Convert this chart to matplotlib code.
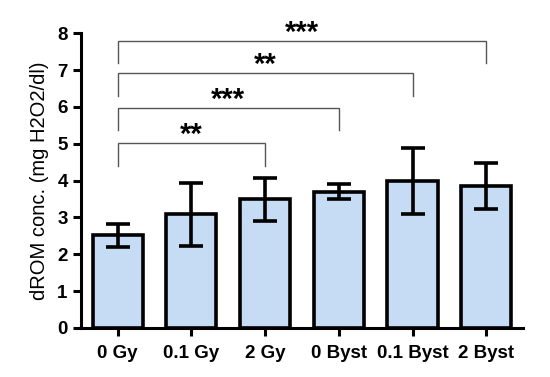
import matplotlib.pyplot as plt
import numpy as np

groups = ["0 Gy", "0.1 Gy", "2 Gy", "0 Byst", "0.1 Byst", "2 Byst"]
means = [2.52, 3.08, 3.49, 3.70, 3.98, 3.85]
errs = [0.31, 0.86, 0.58, 0.21, 0.90, 0.63]

# significance brackets: (from, to, bar height, drop end, label)
brackets = [
    (0, 2, 5.02, 4.40, "**"),
    (0, 3, 5.97, 5.37, "***"),
    (0, 4, 6.92, 6.30, "**"),
    (0, 5, 7.80, 7.19, "***"),
]

plt.rcParams["font.family"] = ["Liberation Sans", "DejaVu Sans"]

fig = plt.figure(figsize=(5.5, 3.77), dpi=100)
ax = fig.add_axes([0.147, 0.13, 0.804, 0.782])

x = np.arange(len(groups))
ax.bar(x, means, width=0.68, color="#c6dcf5", edgecolor="black", linewidth=2.6, zorder=2)
ax.errorbar(x, means, yerr=errs, fmt="none", ecolor="black", elinewidth=2.6,
            capsize=8.5, capthick=2.6, zorder=3)

for a, b, h, d, lab in brackets:
    ax.plot([a, a, b, b], [d, h, h, d], color="#555555", linewidth=1.0,
            solid_joinstyle="miter", zorder=1)
    ax.text((a + b) / 2, h - 0.17, lab, ha="center", va="bottom",
            fontsize=21, fontweight="bold")

ax.set_xlim(-0.5, 5.5)
ax.set_ylim(0, 8)
ax.set_yticks(range(0, 9))
ax.set_xticks(x)
ax.set_xticklabels(groups)
ax.set_ylabel("dROM conc. (mg H2O2/dl)", fontsize=14.5, labelpad=6)

for s in ["top", "right"]:
    ax.spines[s].set_visible(False)
for s in ["left", "bottom"]:
    ax.spines[s].set_linewidth(2.2)
ax.tick_params(axis="both", width=2.2, length=6, labelsize=13.5)
ax.tick_params(axis="x", pad=6)
for lbl in ax.get_xticklabels() + ax.get_yticklabels():
    lbl.set_fontweight("bold")

fig.savefig("out.png", dpi=100)
